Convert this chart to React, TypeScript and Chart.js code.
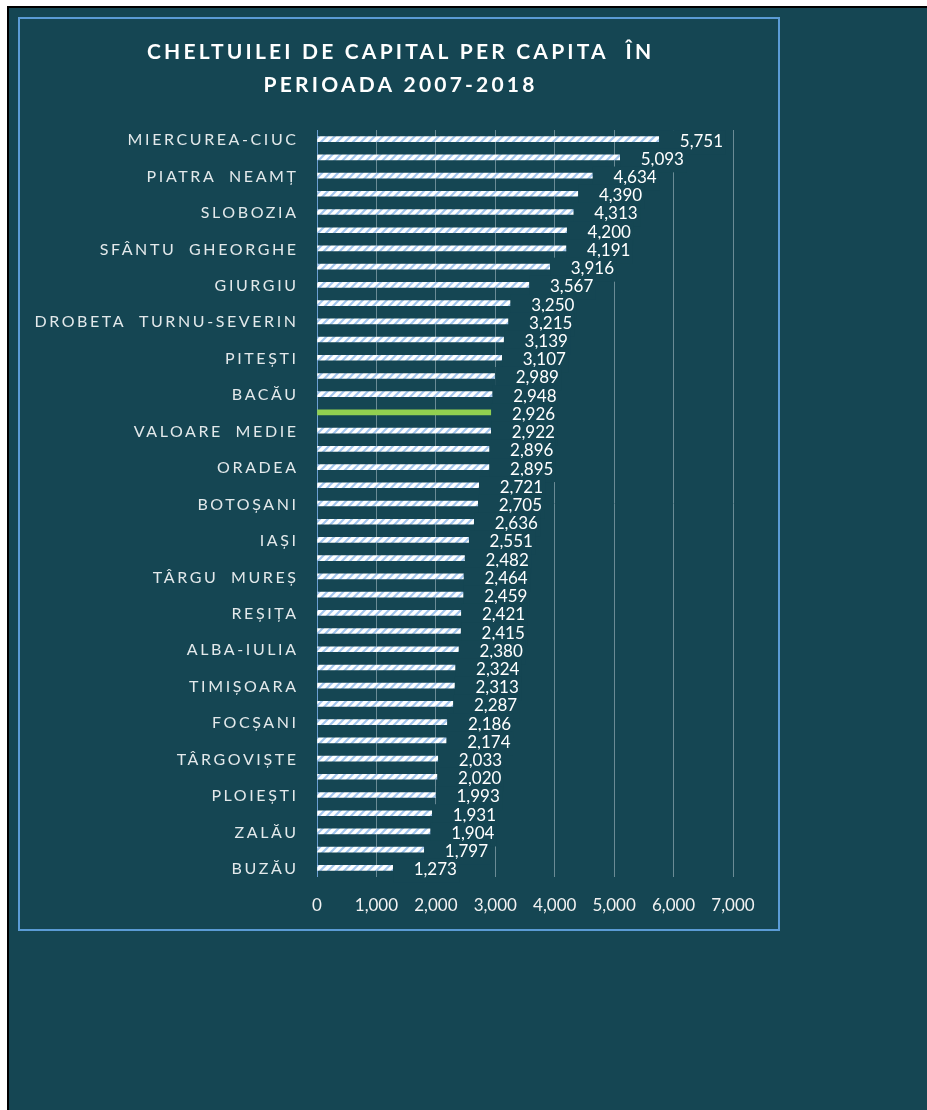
import React, { useEffect, useRef } from 'react';
import { Chart, registerables } from 'chart.js';

Chart.register(...registerables);

const titleLines = ['CHELTUILEI DE CAPITAL PER CAPITA  ÎN', 'PERIOADA 2007-2018'];

const categories = [
  'MIERCUREA-CIUC', '', 'PIATRA NEAMȚ', '', 'SLOBOZIA', '', 'SFÂNTU GHEORGHE', '',
  'GIURGIU', '', 'DROBETA TURNU-SEVERIN', '', 'PITEȘTI', '', 'BACĂU', '',
  'VALOARE MEDIE', '', 'ORADEA', '', 'BOTOȘANI', '', 'IAȘI', '', 'TÂRGU MUREȘ', '',
  'REȘIȚA', '', 'ALBA-IULIA', '', 'TIMIȘOARA', '', 'FOCȘANI', '', 'TÂRGOVIȘTE', '',
  'PLOIEȘTI', '', 'ZALĂU', '', 'BUZĂU',
];

const values = [
  5751, 5093, 4634, 4390, 4313, 4200, 4191, 3916, 3567, 3250, 3215, 3139, 3107, 2989,
  2948, 2926, 2922, 2896, 2895, 2721, 2705, 2636, 2551, 2482, 2464, 2459, 2421, 2415,
  2380, 2324, 2313, 2287, 2186, 2174, 2033, 2020, 1993, 1931, 1904, 1797, 1273,
];

const averageIndex = 15;

const xMin = 0;
const xMax = 7000;
const xStep = 1000;

const TEAL = '#154653';
const GREEN = '#92D050';
const FRAME_BLUE = '#5B9BD5';

function makePattern(): CanvasPattern | string {
  const c = document.createElement('canvas');
  c.width = 8;
  c.height = 8;
  const g = c.getContext('2d');
  if (!g) return '#ffffff';
  g.fillStyle = '#ffffff';
  g.fillRect(0, 0, 8, 8);
  g.strokeStyle = '#A3C6EE';
  g.lineWidth = 2.2;
  g.beginPath();
  g.moveTo(-2, 10);
  g.lineTo(10, -2);
  g.moveTo(-6, 6);
  g.lineTo(6, -6);
  g.moveTo(2, 14);
  g.lineTo(14, 2);
  g.stroke();
  const p = g.createPattern(c, 'repeat');
  return p || '#ffffff';
}

const fmt = (v: number) => v.toLocaleString('en-US');

export default function App() {
  const ref = useRef<HTMLCanvasElement | null>(null);

  useEffect(() => {
    if (!ref.current) return;
    const pattern = makePattern();

    const decor = {
      id: 'decor',
      afterDatasetsDraw(chart: any) {
        const ctx = chart.ctx;
        const meta = chart.getDatasetMeta(0);
        const xs = chart.scales.x;
        ctx.save();
        ctx.font = '17px Lato';
        ctx.textBaseline = 'middle';
        ctx.textAlign = 'left';
        meta.data.forEach((bar: any, i: number) => {
          const v = values[i];
          const end = xs.getPixelForValue(v);
          const cy = bar.y;
          const txt = fmt(v);
          const tx = end + 21;
          const w = ctx.measureText(txt).width;
          ctx.fillStyle = TEAL;
          ctx.fillRect(end + 0.5, cy - 9, tx + w + 2 - end, 24);
          ctx.fillStyle = '#ffffff';
          ctx.fillText(txt, tx, cy + 2);
        });
        ctx.restore();
      },
      afterDraw(chart: any) {
        const ctx = chart.ctx;
        const ys = chart.scales.y;
        const area = chart.chartArea;
        ctx.save();
        // category labels
        ctx.font = '16px Lato';
        (ctx as any).letterSpacing = '2.6px';
        (ctx as any).wordSpacing = '6px';
        ctx.textAlign = 'right';
        ctx.textBaseline = 'middle';
        ctx.fillStyle = '#E3E9EB';
        categories.forEach((lab, i) => {
          if (!lab) return;
          const y = ys.getPixelForValue(i);
          ctx.fillText(lab, area.left - 21 + 2.6, y + 1);
        });
        // title
        ctx.font = 'bold 21px Lato';
        (ctx as any).letterSpacing = '3.2px';
        (ctx as any).wordSpacing = '0px';
        ctx.textAlign = 'center';
        ctx.fillStyle = '#ffffff';
        const cx = chart.width / 2 + 1.6;
        ctx.fillText(titleLines[0], cx, 33);
        ctx.fillText(titleLines[1], cx, 66);
        ctx.restore();
      },
    };

    const chart = new Chart(ref.current, {
      type: 'bar',
      data: {
        labels: categories,
        datasets: [
          {
            data: values,
            backgroundColor: (c: any) => (c.dataIndex === averageIndex ? GREEN : pattern),
            borderWidth: 0,
            barThickness: 5,
          },
        ],
      },
      options: {
        indexAxis: 'y',
        responsive: false,
        animation: false,
        layout: { padding: { left: 297, right: 45, top: 111, bottom: 0 } },
        plugins: {
          legend: { display: false },
          title: { display: false },
          tooltip: { enabled: false },
        },
        scales: {
          x: {
            min: xMin,
            max: xMax,
            afterFit: (s: any) => {
              s.height = 52;
            },
            border: { display: false },
            grid: {
              drawTicks: false,
              lineWidth: 1,
              color: (c: any) => (c.tick && c.tick.value === 0 ? '#6C9FD3' : '#6A8B95'),
            },
            ticks: {
              stepSize: xStep,
              padding: 18,
              color: '#F2F2F2',
              font: { family: 'Lato', size: 17 },
              callback: (v: any) => fmt(Number(v)),
            },
          },
          y: {
            display: false,
          },
        },
      },
      plugins: [decor],
    } as any);

    return () => chart.destroy();
  }, []);

  return (
    <div
      style={{
        position: 'absolute',
        left: 7,
        top: 6,
        width: 918,
        height: 1102,
        background: TEAL,
        borderLeft: '2px solid #000',
        borderTop: '2px solid #000',
        overflow: 'hidden',
      }}
    >
      <div
        style={{
          position: 'absolute',
          left: 9,
          top: 9,
          width: 758,
          height: 910,
          border: `2px solid ${FRAME_BLUE}`,
        }}
      >
        <canvas ref={ref} width={758} height={910} style={{ display: 'block', width: 758, height: 910 }} />
      </div>
    </div>
  );
}
